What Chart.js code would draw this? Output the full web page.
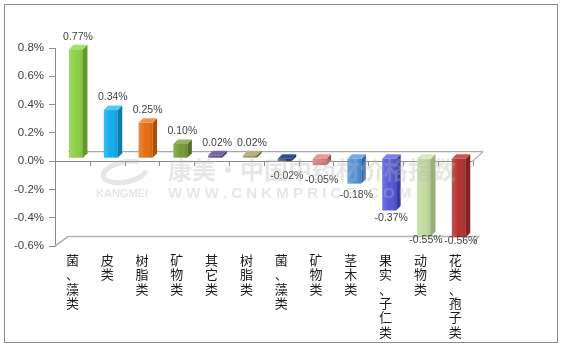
<!DOCTYPE html>
<html>
<head>
<meta charset="utf-8">
<script src="https://cdn.jsdelivr.net/npm/chart.js@4/dist/chart.umd.min.js"></script>
<style>
html,body{margin:0;padding:0;background:#fff;}
#wrap{position:relative;width:562px;height:349px;}
</style>
</head>
<body>
<div id="wrap"><canvas id="c" width="562" height="349"></canvas></div>
<script>
// ---- data ----
const categories = ['菌、藻类','皮类','树脂类','矿物类','其它类','树脂类','菌、藻类','矿物类','茎木类','果实、子仁类','动物类','花类、孢子类'];
const values = [0.77, 0.34, 0.25, 0.10, 0.02, 0.02, -0.02, -0.05, -0.18, -0.37, -0.55, -0.56];
const yMin = -0.6, yMax = 0.8, yStep = 0.2;

// ---- styles ----
const frontColors = ['#8CCF48','#14ACEC','#E56E10','#76983A','#5C4A86','#9A9060','#1E3A74','#D8736C','#4B8EDA','#5458D8','#C3DBA0','#B2302E'];
const sideColors  = ['#5F9A2A','#0A7CB0','#AE4F06','#536E26','#3E2F63','#6E6640','#10244E','#A84C47','#3266A8','#3639A6','#97AF76','#842020'];
const topColors   = ['#A6DE70','#55C8F4','#F09250','#93B25A','#7A68A6','#B8AE7C','#344F90','#EA9690','#72AAE6','#7C80E8','#D6E8BC','#CC5452'];

const DX = 3.6, DY = -3, D = 4.5;
const fontTxt = '"Liberation Sans", Arial, sans-serif';

const deco = {
  id: 'deco',
  beforeDraw(chart){
    const ctx = chart.ctx;
    ctx.save();
    ctx.fillStyle = '#fff';
    ctx.fillRect(0,0,chart.width,chart.height);
    ctx.restore();
  },
  beforeDatasetsDraw(chart){
    const ctx = chart.ctx, a = chart.chartArea, ys = chart.scales.y, xs = chart.scales.x;
    const y0 = ys.getPixelForValue(0);
    ctx.save();
    // back edge of zero plane
    ctx.strokeStyle = '#a8a8a8'; ctx.lineWidth = 1.2;
    ctx.beginPath(); ctx.moveTo(a.left+13, y0-9.5); ctx.lineTo(a.right+10.5, y0-9.5); ctx.stroke();
    ctx.beginPath(); ctx.moveTo(a.right, y0); ctx.lineTo(a.right+10.5, y0-9.5); ctx.stroke();
    // floor at minimum
    const yb = a.bottom;
    ctx.strokeStyle = '#b4b4b4'; ctx.lineWidth = 1.6;
    ctx.beginPath(); ctx.moveTo(a.left, yb); ctx.lineTo(a.left+13, yb-9.5); ctx.lineTo(a.right+6, yb-9.5); ctx.lineTo(a.right+1, yb-3); ctx.stroke();
    // front category axis line with ticks
    ctx.strokeStyle = '#8a8a8a'; ctx.lineWidth = 1;
    ctx.beginPath(); ctx.moveTo(a.left, Math.round(y0)+0.5); ctx.lineTo(a.right, Math.round(y0)+0.5); ctx.stroke();
    const w = (a.right - a.left)/categories.length;
    ctx.beginPath();
    for(let i=0;i<=categories.length;i++){
      const x = Math.round(a.left + i*w)+0.5;
      ctx.moveTo(x, y0); ctx.lineTo(x, y0+5);
    }
    ctx.stroke();
    ctx.restore();
    ctx.save();
    ctx.translate(DX, DY);
  },
  afterDatasetsDraw(chart){
    const ctx = chart.ctx;
    const meta = chart.getDatasetMeta(0);
    meta.data.forEach((bar,i)=>{
      const p = bar.getProps(['x','y','base','width'], true);
      const l = p.x - p.width/2, r = p.x + p.width/2;
      const top = Math.min(p.y, p.base), bot = Math.max(p.y, p.base);
      // front shading
      const g = ctx.createLinearGradient(l,0,r,0);
      g.addColorStop(0,'rgba(255,255,255,0.18)');
      g.addColorStop(0.5,'rgba(255,255,255,0.0)');
      g.addColorStop(1,'rgba(0,0,0,0.12)');
      ctx.fillStyle = g; ctx.fillRect(l, top, r-l, bot-top);
      // side face
      ctx.fillStyle = sideColors[i];
      ctx.beginPath();
      ctx.moveTo(r, top); ctx.lineTo(r+D, top-D); ctx.lineTo(r+D, bot-D); ctx.lineTo(r, bot); ctx.closePath(); ctx.fill();
      // top face
      ctx.fillStyle = topColors[i];
      ctx.beginPath();
      ctx.moveTo(l, top); ctx.lineTo(l+D, top-D); ctx.lineTo(r+D, top-D); ctx.lineTo(r, top); ctx.closePath(); ctx.fill();
    });
    ctx.restore();

    // data labels
    const ys = chart.scales.y; const y0 = ys.getPixelForValue(0);
    ctx.save();
    ctx.font = '10.5px ' + fontTxt;
    ctx.fillStyle = '#404040';
    ctx.textAlign = 'center'; ctx.textBaseline = 'middle';
    meta.data.forEach((bar,i)=>{
      const v = values[i];
      const yv = ys.getPixelForValue(v);
      const x = bar.x + DX + 2;
      const y = v >= 0 ? yv - 15.5 : y0 + 12.6 + 0.854*(yv - y0);
      ctx.fillText(v.toFixed(2) + '%', x, y);
    });
    ctx.restore();

    // faint watermark
    ctx.save();
    ctx.globalAlpha = 0.35;
    ctx.fillStyle = '#b8b8b8';
    ctx.textBaseline = 'middle'; ctx.textAlign = 'left';
    ctx.font = 'bold 24px "Noto Sans CJK SC", sans-serif';
    ctx.fillText('康美·中国中药材价格指数', 168, 170);
    ctx.font = 'bold 11px ' + fontTxt;
    ctx.fillText('KANGMEI', 96, 194);
    ctx.font = 'bold 15px ' + fontTxt;
    ctx.fillText('W W W . C N K M P R I C E . C O M', 168, 194);
    ctx.lineWidth = 5; ctx.strokeStyle = '#b8b8b8';
    ctx.beginPath(); ctx.ellipse(125, 172, 22, 10, -0.2, 0.3, 5.5); ctx.stroke();
    ctx.restore();

    // outer border
    ctx.save();
    ctx.strokeStyle = '#8c8c8c'; ctx.lineWidth = 1;
    ctx.strokeRect(4.5, 4.5, 553, 338);
    ctx.restore();
  }
};

new Chart(document.getElementById('c'), {
  type: 'bar',
  data: {
    labels: categories.map(s => Array.from(s)),
    datasets: [{
      data: values,
      backgroundColor: frontColors,
      borderWidth: 0,
      barPercentage: 0.4,
      categoryPercentage: 1.0,
      clip: false
    }]
  },
  options: {
    responsive: false,
    animation: false,
    devicePixelRatio: 1,
    layout: { padding: { left: 0, right: 89.4, top: 48, bottom: 0 } },
    plugins: { legend: { display: false }, tooltip: { enabled: false } },
    scales: {
      x: {
        grid: { display: false, drawTicks: false },
        border: { display: false },
        ticks: {
          maxRotation: 0, minRotation: 0, autoSkip: false, padding: 7,
          color: '#1a1a1a',
          font: { family: '"Noto Sans CJK SC", sans-serif', size: 13, lineHeight: 1.1 }
        },
        afterFit(s){ s.height = 103; }
      },
      y: {
        min: yMin, max: yMax,
        grid: { drawOnChartArea: false, drawTicks: true, tickLength: 6, color: '#8a8a8a' },
        border: { display: true, color: '#8a8a8a' },
        ticks: {
          stepSize: yStep, padding: 5, color: '#404040',
          font: { family: '"Liberation Sans", Arial, sans-serif', size: 11.5 },
          callback: v => (Math.round(v*10)/10).toFixed(1) + '%'
        },
        afterFit(s){ s.width = 55; }
      }
    }
  },
  plugins: [deco]
});
</script>
</body>
</html>
